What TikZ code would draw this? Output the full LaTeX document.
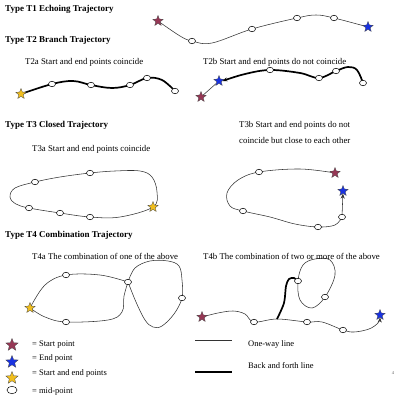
\documentclass[tikz,border=0pt]{standalone}
\usepackage{fontspec}
\setmainfont{Liberation Serif}
\usetikzlibrary{shapes.geometric,arrows.meta,backgrounds}
\definecolor{startcol}{RGB}{150,55,85}
\definecolor{endcol}{RGB}{25,50,225}
\definecolor{bothcol}{RGB}{240,190,30}
\tikzset{
  startpt/.style={star,star points=5,star point ratio=2.3,minimum size=11pt,inner sep=0pt,
    draw=black!70,line width=0.3pt,fill=startcol},
  endpt/.style={startpt,fill=endcol},
  bothpt/.style={startpt,fill=bothcol},
  midpt/.style={ellipse,draw,fill=white,minimum width=7pt,minimum height=5.5pt,inner sep=0pt,line width=0.5pt},
  oneway/.style={line width=0.55pt,black!80},
  backforth/.style={line width=1.7pt},
  title/.style={font=\fontsize{9}{10}\selectfont\bfseries,anchor=west,inner sep=0pt},
  lbl/.style={font=\fontsize{8.8}{10}\selectfont,anchor=west,inner sep=0pt},
  key/.style={font=\fontsize{8.5}{10}\selectfont,anchor=west,inner sep=0pt},
  tip/.style={-{Stealth[length=5pt,width=4pt]}}
}
\begin{document}
\begin{tikzpicture}[x=1pt,y=-1pt]
\useasboundingbox (0,0) rectangle (400,404);
% titles and labels
\node[title] (t1) at (5,9) {Type T1 Echoing Trajectory};
\node[title] (t2) at (5,40) {Type T2 Branch Trajectory};
\node[title] (t3) at (5,125) {Type T3 Closed Trajectory};
\node[title] (t4) at (5,235) {Type T4 Combination Trajectory};
\node[lbl] (l2a) at (25,62) {T2a Start and end points coincide};
\node[lbl] (l2b) at (203,62) {T2b Start and end points do not coincide};
\node[lbl] (l3a) at (32,149) {T3a Start and end points coincide};
\node[lbl] (l3b) at (239,125) {T3b Start and end points do not};
\node[lbl] (l3c) at (239,140) {coincide but close to each other};
\node[lbl] (l4a) at (32,256) {T4a The combination of one of the above};
\node[lbl] (l4b) at (203,256) {T4b The combination of two or more of the above};

% T1
\node[startpt] (t1s) at (158,21) {};
\node[endpt] (t1e) at (368,27) {};
\foreach \n/\p in {1/{192,41},2/{252,29},3/{297,18},4/{334,18}}
  \node[midpt] (t1m\n) at (\p) {};

% T2a
\node[bothpt] (t2as) at (21,94) {};
\foreach \n/\p in {1/{52,84},2/{91,85},3/{130,85},4/{147,78},5/{175,91}}
  \node[midpt] (t2am\n) at (\p) {};

% T2b
\node[startpt] (t2bs) at (201,97) {};
\node[endpt] (t2be) at (219,81) {};
\foreach \n/\p in {1/{270,70},2/{319,78},3/{336,71},4/{363,83}}
  \node[midpt] (t2bm\n) at (\p) {};

% T3a
\node[bothpt] (t3as) at (153,207) {};
\foreach \n/\p in {1/{90,173},2/{35,182},3/{29,208},4/{60,213},5/{90,217}}
  \node[midpt] (t3am\n) at (\p) {};

% T3b
\node[startpt] (t3bs) at (335,173) {};
\node[endpt] (t3be) at (343,191) {};
\foreach \n/\p in {1/{259,172},2/{243,211},3/{318,227},4/{342,217}}
  \node[midpt] (t3bm\n) at (\p) {};

% T4a
\node[bothpt] (t4as) at (30,308) {};
\foreach \n/\p in {1/{66,275},2/{128,282},3/{66,322},4/{182,298}}
  \node[midpt] (t4am\n) at (\p) {};

% T4b
\node[startpt] (t4bs) at (202,317) {};
\node[endpt] (t4be) at (380,315) {};
\foreach \n/\p in {1/{254,322},2/{307,322},3/{343,330},4/{298,281},5/{325,297}}
  \node[midpt] (t4bm\n) at (\p) {};

% legend
\node[startpt,minimum size=13pt] (k1) at (12,345) {};
\node[endpt,minimum size=13pt] (k2) at (12,362) {};
\node[bothpt,minimum size=13pt] (k3) at (12,378) {};
\node[midpt,minimum width=10pt,minimum height=7.5pt] (k4) at (12,390) {};
\node[key] (kt1) at (32,345) {= Start point};
\node[key] (kt2) at (32,358) {= End point};
\node[key] (kt3) at (32,373) {= Start and end points};
\node[key] (kt4) at (32,391) {= mid-point};
\coordinate (ka) at (195,340);
\coordinate (kb) at (232,340);
\coordinate (kc) at (195,372);
\coordinate (kd) at (232,372);
\draw[oneway] (ka) -- (kb);
\draw[backforth] (kc) -- (kd);
\node[key] (kt5) at (248,344) {One-way line};
\node[key] (kt6) at (248,366) {Back and forth line};
\node[font=\fontsize{4.5}{5}\selectfont,text=black!60] (pg) at (393,373) {4};

\begin{pgfonlayer}{background}
% T1
\draw[oneway] plot[smooth,tension=0.6] coordinates {(t1s.center) (180,36) (t1m1.center) (212,43)
  (t1m2.center) (t1m3.center) (316,15) (t1m4.center) (t1e.center)};
% T2a
\draw[backforth] plot[smooth,tension=0.6] coordinates {(t2as.center) (t2am1.center) (73,81)
  (t2am2.center) (112,88) (t2am3.center) (t2am4.center) (162,80) (t2am5.center)};
% T2b
\draw[oneway] (t2bs) -- (t2be);
\draw[backforth,tip] plot[smooth,tension=0.6] coordinates {(t2bm4.center) (357,70) (348,67)
  (t2bm3.center) (t2bm2.center) (300,73) (t2bm1.center) (245,74) (t2be.east)};
% T3a
\draw[oneway] plot[smooth cycle,tension=0.6] coordinates {(t3as.center) (157,192) (152,177)
  (140,171) (115,171) (t3am1.center) (60,177) (t3am2.center) (15,188) (10,197) (16,204)
  (t3am3.center) (t3am4.center) (t3am5.center) (120,217)};
% T3b
\draw[oneway] plot[smooth,tension=0.6] coordinates {(t3bs.center) (300,169) (t3bm1.center)
  (238,180) (227,193) (230,206) (t3bm2.center) (270,217) (295,224) (t3bm3.center) (335,225)
  (t3bm4.center)};
\draw[oneway,tip] (t3bm4) -- (t3be);
% T4a
\draw[oneway] plot[smooth,tension=0.6] coordinates {(t4as.center) (45,285) (t4am1.center)
  (100,275) (t4am2.center)};
\draw[oneway] plot[smooth,tension=0.6] coordinates {(t4am2.center) (124,296) (122,312)
  (108,320) (t4am3.center) (45,317) (t4as.center)};
\draw[oneway] plot[smooth,tension=0.6] coordinates {(t4am2.center) (135,268) (150,261)
  (168,261) (179,266) (182,280) (t4am4.center) (174,314) (162,326) (153,327) (145,320)
  (136,302) (t4am2.center)};
% T4b
\draw[oneway,tip] plot[smooth,tension=0.6] coordinates {(t4bs.center) (218,313) (233,311)
  (245,314) (t4bm1.center) (277,319) (t4bm2.center) (322,322) (t4bm3.center) (354,332)
  (369,329) (378,323) (t4be.south)};
\draw[backforth] plot[smooth,tension=0.5] coordinates {(277,319) (284,303) (286,286)
  (289,279) (294,278) (t4bm4.center)};
\draw[oneway] plot[smooth cycle,tension=0.6] coordinates {(t4bm4.center) (303,265) (315,259)
  (330,260) (335,275) (t4bm5.center) (312,308) (300,300)};
\end{pgfonlayer}
\end{tikzpicture}
\end{document}
